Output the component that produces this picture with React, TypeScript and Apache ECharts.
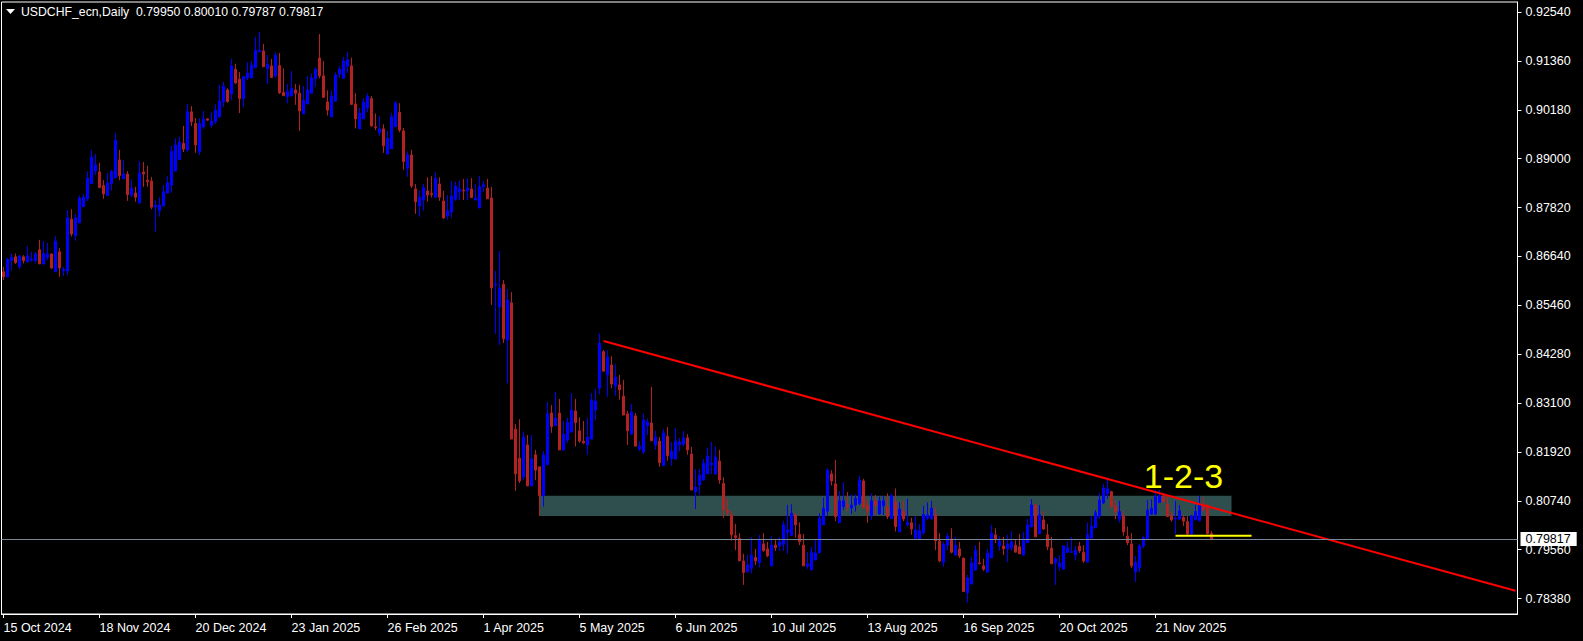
import React, { useEffect, useRef } from "react";
import * as echarts from "echarts";

// ---------- data ----------
const SYMBOL_TITLE = "USDCHF_ecn,Daily";
const HEADER_OHLC = ["0.79950", "0.80010", "0.79787", "0.79817"];
const START_DATE = "2024-10-15";
const TOTAL_SLOTS = 379; // bars + empty right shift
const LABEL_EVERY = 24;

// [open, close, low, high]
const candles: number[][] = [
  [0.8627, 0.8615, 0.8607, 0.8639], [0.8615, 0.8657, 0.8613, 0.8661], [0.8654, 0.8662, 0.863, 0.8671],
  [0.8663, 0.8649, 0.8646, 0.8671], [0.8639, 0.8665, 0.8634, 0.8667], [0.8663, 0.8654, 0.8647, 0.8667],
  [0.8651, 0.8665, 0.8649, 0.8689], [0.8655, 0.8658, 0.8651, 0.8675], [0.8654, 0.867, 0.8647, 0.8675],
  [0.868, 0.8646, 0.8646, 0.8704], [0.8646, 0.8671, 0.8643, 0.8701], [0.8662, 0.867, 0.8655, 0.8697],
  [0.867, 0.8636, 0.8634, 0.8671], [0.8627, 0.8701, 0.8627, 0.8713], [0.8675, 0.8636, 0.8615, 0.8684],
  [0.8629, 0.8633, 0.8617, 0.8639], [0.8629, 0.8757, 0.8619, 0.8776], [0.8754, 0.8718, 0.8712, 0.8778],
  [0.8714, 0.8757, 0.8702, 0.8766], [0.8745, 0.8805, 0.8744, 0.8811], [0.8784, 0.8807, 0.8783, 0.8815],
  [0.8803, 0.8853, 0.8798, 0.8869], [0.884, 0.8904, 0.8838, 0.8921], [0.887, 0.8885, 0.8861, 0.8911],
  [0.8868, 0.883, 0.883, 0.889], [0.8835, 0.8815, 0.8803, 0.8848], [0.8811, 0.8841, 0.8811, 0.8865],
  [0.884, 0.8869, 0.8823, 0.8873], [0.8854, 0.8945, 0.8853, 0.8961], [0.8897, 0.8859, 0.8848, 0.8921],
  [0.8852, 0.8863, 0.885, 0.8897], [0.8863, 0.8813, 0.8798, 0.887], [0.8812, 0.8829, 0.8807, 0.885],
  [0.8817, 0.8807, 0.8796, 0.8832], [0.8793, 0.8865, 0.8792, 0.8894], [0.8868, 0.8863, 0.8832, 0.8892],
  [0.8848, 0.8844, 0.8832, 0.8883], [0.8846, 0.8783, 0.8778, 0.8856], [0.8783, 0.8788, 0.8724, 0.88],
  [0.8774, 0.8788, 0.876, 0.8807], [0.8786, 0.882, 0.8784, 0.8836], [0.8817, 0.8842, 0.8816, 0.8858],
  [0.8836, 0.8918, 0.8818, 0.8931], [0.887, 0.8933, 0.887, 0.8949], [0.8898, 0.894, 0.8897, 0.8953],
  [0.8937, 0.8923, 0.8916, 0.8979], [0.8921, 0.9013, 0.8916, 0.9032], [0.9013, 0.8989, 0.8979, 0.9027],
  [0.8985, 0.8933, 0.8914, 0.8998], [0.8917, 0.8985, 0.8909, 0.8998], [0.8977, 0.8996, 0.8972, 0.9015],
  [0.8996, 0.8993, 0.8992, 0.8998], [0.8981, 0.8991, 0.8975, 0.9012], [0.8989, 0.9017, 0.8984, 0.9031],
  [0.9001, 0.9039, 0.8999, 0.9078], [0.9037, 0.9075, 0.9025, 0.9085], [0.9066, 0.9038, 0.9035, 0.907],
  [0.9056, 0.9124, 0.9041, 0.9141], [0.9116, 0.9083, 0.908, 0.9129], [0.9092, 0.9045, 0.901, 0.9109],
  [0.9045, 0.9098, 0.9025, 0.91], [0.9095, 0.9107, 0.909, 0.9133], [0.9095, 0.9126, 0.9094, 0.9136],
  [0.912, 0.9162, 0.9118, 0.9194], [0.9158, 0.9161, 0.9157, 0.9206], [0.916, 0.9122, 0.9121, 0.9177],
  [0.9117, 0.9128, 0.908, 0.915], [0.9124, 0.9096, 0.9095, 0.9141], [0.91, 0.915, 0.9094, 0.9157],
  [0.9125, 0.9059, 0.9056, 0.9155], [0.906, 0.9052, 0.9052, 0.9118], [0.905, 0.9063, 0.9034, 0.908],
  [0.9052, 0.907, 0.905, 0.9112], [0.9066, 0.9058, 0.903, 0.908], [0.9058, 0.9015, 0.8967, 0.9078],
  [0.9008, 0.9041, 0.9008, 0.9076], [0.9032, 0.9066, 0.9032, 0.91], [0.9058, 0.9095, 0.9058, 0.9106],
  [0.9093, 0.9116, 0.9074, 0.912], [0.9143, 0.91, 0.9094, 0.9201], [0.91, 0.9048, 0.9047, 0.9136],
  [0.9037, 0.9017, 0.9004, 0.9065], [0.9001, 0.9051, 0.9001, 0.9065], [0.9039, 0.9102, 0.9037, 0.9108],
  [0.9104, 0.9116, 0.9095, 0.9124], [0.9094, 0.9136, 0.9094, 0.9145], [0.9123, 0.9139, 0.9107, 0.9158],
  [0.9124, 0.9031, 0.903, 0.9144], [0.9032, 0.8996, 0.8973, 0.9058], [0.8972, 0.901, 0.8972, 0.9023],
  [0.8996, 0.9037, 0.8996, 0.9046], [0.9022, 0.905, 0.9012, 0.9058], [0.9045, 0.8979, 0.8977, 0.9051],
  [0.8977, 0.8975, 0.8969, 0.9009], [0.8963, 0.8972, 0.8955, 0.9003], [0.8972, 0.8931, 0.8914, 0.8983],
  [0.8911, 0.8949, 0.8911, 0.8968], [0.8924, 0.9001, 0.8924, 0.901], [0.8977, 0.9034, 0.8977, 0.9039],
  [0.9012, 0.8969, 0.8964, 0.9034], [0.8967, 0.8893, 0.8873, 0.8974], [0.8877, 0.8909, 0.8856, 0.8918],
  [0.8909, 0.8834, 0.8829, 0.8921], [0.8827, 0.8796, 0.8767, 0.8839], [0.8786, 0.8807, 0.876, 0.8823],
  [0.88, 0.883, 0.8774, 0.8839], [0.8822, 0.8812, 0.8796, 0.8855], [0.8816, 0.8813, 0.8806, 0.8858],
  [0.8807, 0.8853, 0.8806, 0.8867], [0.8839, 0.8807, 0.8798, 0.8855], [0.8798, 0.8757, 0.8754, 0.8822],
  [0.8762, 0.8774, 0.8753, 0.8812], [0.8771, 0.881, 0.8757, 0.8846], [0.8802, 0.8834, 0.8798, 0.8844],
  [0.882, 0.8827, 0.88, 0.8848], [0.8824, 0.8822, 0.88, 0.8851], [0.8822, 0.8829, 0.88, 0.8853],
  [0.8827, 0.8806, 0.8806, 0.8853], [0.88, 0.8805, 0.88, 0.8839], [0.8781, 0.8832, 0.8781, 0.8858],
  [0.8832, 0.8837, 0.882, 0.8846], [0.8829, 0.8803, 0.8803, 0.8851], [0.8805, 0.8588, 0.8547, 0.8832],
  [0.8595, 0.8597, 0.8477, 0.8629], [0.8542, 0.8588, 0.845, 0.8677], [0.8597, 0.8465, 0.8455, 0.8607],
  [0.8462, 0.8559, 0.8358, 0.8585], [0.8552, 0.8223, 0.8223, 0.8578], [0.8247, 0.8139, 0.8098, 0.8259],
  [0.8177, 0.8122, 0.8117, 0.8271], [0.8132, 0.8228, 0.8124, 0.8241], [0.8209, 0.811, 0.811, 0.8233],
  [0.811, 0.8175, 0.811, 0.8233], [0.8185, 0.8148, 0.8124, 0.8197], [0.8156, 0.8086, 0.8038, 0.8156],
  [0.8086, 0.8185, 0.806, 0.8194], [0.8161, 0.8284, 0.8161, 0.8313], [0.8286, 0.8253, 0.8238, 0.8305],
  [0.8255, 0.8274, 0.8255, 0.8337], [0.8286, 0.8197, 0.8197, 0.832], [0.8197, 0.8235, 0.8194, 0.8267],
  [0.8221, 0.8264, 0.8214, 0.8274], [0.824, 0.8293, 0.824, 0.8334], [0.8291, 0.8263, 0.8205, 0.832],
  [0.8243, 0.8218, 0.8214, 0.8276], [0.8218, 0.8214, 0.8211, 0.8267], [0.8209, 0.8228, 0.8185, 0.8274],
  [0.8223, 0.8317, 0.8223, 0.8334], [0.8293, 0.8315, 0.8269, 0.8344], [0.8346, 0.8454, 0.8331, 0.8478],
  [0.8434, 0.8387, 0.8387, 0.8438], [0.8378, 0.8421, 0.8325, 0.8438], [0.8402, 0.8356, 0.8346, 0.8423],
  [0.8351, 0.8373, 0.8328, 0.8404], [0.8354, 0.8342, 0.8318, 0.8378], [0.8327, 0.8281, 0.8281, 0.8366],
  [0.8284, 0.8243, 0.8209, 0.8291], [0.8235, 0.8288, 0.8235, 0.8308], [0.8279, 0.8206, 0.8206, 0.8286],
  [0.8199, 0.8206, 0.8194, 0.8218], [0.8192, 0.8269, 0.8187, 0.8284], [0.8255, 0.8264, 0.8233, 0.8272],
  [0.8262, 0.8219, 0.8219, 0.8349], [0.8209, 0.8228, 0.8197, 0.8243], [0.8218, 0.8166, 0.8156, 0.8228],
  [0.8159, 0.8238, 0.8159, 0.8247], [0.823, 0.8183, 0.8171, 0.8252], [0.8176, 0.8194, 0.8159, 0.8216],
  [0.8175, 0.8218, 0.8173, 0.825], [0.8209, 0.8216, 0.8193, 0.8226], [0.8211, 0.8226, 0.8205, 0.8243],
  [0.8226, 0.8197, 0.8185, 0.8235], [0.8187, 0.81, 0.81, 0.8204], [0.8096, 0.8107, 0.8054, 0.8151],
  [0.8112, 0.8136, 0.8088, 0.8151], [0.8124, 0.8165, 0.8124, 0.8175], [0.8139, 0.8182, 0.8139, 0.8202],
  [0.8161, 0.8165, 0.8139, 0.8216], [0.8139, 0.818, 0.8136, 0.8206], [0.817, 0.8124, 0.8115, 0.8197],
  [0.8116, 0.8052, 0.8033, 0.8131], [0.8052, 0.8045, 0.8037, 0.808], [0.8041, 0.7992, 0.7978, 0.8049],
  [0.799, 0.7985, 0.7955, 0.8018], [0.7984, 0.7929, 0.7929, 0.7996], [0.7929, 0.7901, 0.7871, 0.7946],
  [0.7903, 0.7919, 0.7899, 0.7943], [0.7911, 0.7943, 0.7899, 0.7986], [0.7937, 0.7929, 0.7919, 0.7958],
  [0.7925, 0.7979, 0.7913, 0.7992], [0.797, 0.7954, 0.7951, 0.7996], [0.7958, 0.7941, 0.7938, 0.7975],
  [0.7917, 0.7967, 0.7917, 0.7989], [0.7967, 0.7961, 0.7953, 0.7979], [0.7965, 0.7975, 0.7953, 0.7987],
  [0.7969, 0.8016, 0.7953, 0.8025], [0.7998, 0.8004, 0.7946, 0.8064], [0.799, 0.8044, 0.799, 0.8066],
  [0.804, 0.8016, 0.7985, 0.8045], [0.7993, 0.7975, 0.7967, 0.8022], [0.7967, 0.7917, 0.7917, 0.7994],
  [0.7916, 0.7922, 0.791, 0.795], [0.7907, 0.795, 0.7907, 0.7963], [0.7931, 0.7948, 0.7931, 0.7979],
  [0.7949, 0.8032, 0.7946, 0.8044], [0.8016, 0.8056, 0.8016, 0.8082], [0.8049, 0.8148, 0.8038, 0.8153],
  [0.8139, 0.8122, 0.8111, 0.8148], [0.8115, 0.8036, 0.8025, 0.8173], [0.8021, 0.8074, 0.8021, 0.8098],
  [0.806, 0.8074, 0.8052, 0.8119], [0.8064, 0.806, 0.8049, 0.8095], [0.8057, 0.8064, 0.8042, 0.809],
  [0.8064, 0.808, 0.8048, 0.809], [0.8068, 0.8124, 0.8064, 0.8134], [0.8122, 0.8057, 0.8056, 0.8127],
  [0.8064, 0.8049, 0.8021, 0.8076], [0.8038, 0.8074, 0.8028, 0.8092], [0.8074, 0.8062, 0.804, 0.8088],
  [0.8043, 0.8074, 0.804, 0.8084], [0.8062, 0.8074, 0.804, 0.8086], [0.806, 0.8036, 0.803, 0.8092],
  [0.8031, 0.8086, 0.8031, 0.8092], [0.8071, 0.8012, 0.8, 0.8104], [0.7999, 0.8054, 0.7999, 0.8071],
  [0.8049, 0.803, 0.8025, 0.8074], [0.8016, 0.8021, 0.8012, 0.8079], [0.8021, 0.8006, 0.7992, 0.8033],
  [0.7984, 0.8004, 0.7983, 0.8037], [0.7982, 0.8002, 0.7982, 0.8018], [0.7997, 0.8041, 0.7992, 0.8062],
  [0.8032, 0.804, 0.8028, 0.807], [0.803, 0.8056, 0.803, 0.8074], [0.8041, 0.7977, 0.7955, 0.8059],
  [0.7977, 0.7929, 0.7926, 0.7996], [0.7926, 0.7969, 0.7915, 0.7975], [0.7967, 0.7989, 0.7955, 0.7996],
  [0.7982, 0.795, 0.7947, 0.8008], [0.7943, 0.7967, 0.7943, 0.7987], [0.7958, 0.7941, 0.7936, 0.7975],
  [0.7936, 0.7855, 0.7855, 0.7936], [0.7852, 0.7888, 0.7828, 0.7895], [0.7873, 0.7924, 0.7873, 0.7938],
  [0.7907, 0.7955, 0.7905, 0.7967], [0.7924, 0.7922, 0.7921, 0.7975], [0.7917, 0.7909, 0.7905, 0.7934],
  [0.7902, 0.7948, 0.79, 0.7958], [0.7936, 0.7996, 0.7936, 0.8016], [0.7992, 0.7982, 0.7972, 0.8008],
  [0.7965, 0.7977, 0.7953, 0.7989], [0.7965, 0.7958, 0.7943, 0.7987], [0.7958, 0.797, 0.7926, 0.7992],
  [0.796, 0.7975, 0.7953, 0.8001], [0.7967, 0.795, 0.795, 0.7979], [0.7963, 0.7946, 0.7946, 0.7994],
  [0.7943, 0.7982, 0.7943, 0.7999], [0.7973, 0.8016, 0.7973, 0.803], [0.8011, 0.8064, 0.8011, 0.8078],
  [0.8064, 0.7987, 0.7987, 0.8066], [0.7994, 0.804, 0.7994, 0.8064], [0.8028, 0.8006, 0.8004, 0.8049],
  [0.7992, 0.7963, 0.7955, 0.8018], [0.796, 0.7922, 0.7922, 0.7987], [0.7924, 0.7934, 0.7871, 0.7938],
  [0.7914, 0.7924, 0.7905, 0.7943], [0.7909, 0.7965, 0.7909, 0.7967], [0.795, 0.796, 0.7948, 0.7975],
  [0.795, 0.7951, 0.7948, 0.7987], [0.7943, 0.7955, 0.7931, 0.7965], [0.7965, 0.7953, 0.7948, 0.7975],
  [0.795, 0.7929, 0.7924, 0.7967], [0.7926, 0.7992, 0.7926, 0.8021], [0.7984, 0.8013, 0.7984, 0.8037],
  [0.8009, 0.8045, 0.8009, 0.8052], [0.8037, 0.8076, 0.803, 0.8093], [0.8069, 0.8105, 0.8066, 0.8115],
  [0.8091, 0.8103, 0.8079, 0.8124], [0.8096, 0.806, 0.8056, 0.8098], [0.8062, 0.8048, 0.803, 0.8074],
  [0.803, 0.8048, 0.8021, 0.8074], [0.8038, 0.7999, 0.799, 0.805], [0.7989, 0.7973, 0.7967, 0.8012],
  [0.797, 0.7917, 0.7912, 0.7996], [0.7902, 0.7926, 0.7878, 0.7941], [0.7912, 0.7965, 0.7902, 0.797],
  [0.7965, 0.7985, 0.796, 0.799], [0.7983, 0.8052, 0.7979, 0.8076], [0.8042, 0.8056, 0.804, 0.8078],
  [0.8042, 0.8084, 0.804, 0.81], [0.807, 0.8086, 0.807, 0.81], [0.8086, 0.8072, 0.8068, 0.8092],
  [0.8066, 0.8036, 0.8036, 0.8086], [0.8038, 0.8028, 0.8024, 0.8048], [0.803, 0.8032, 0.7994, 0.8074],
  [0.803, 0.805, 0.8028, 0.8064], [0.8034, 0.8025, 0.8013, 0.804], [0.8024, 0.7994, 0.7992, 0.8037],
  [0.7994, 0.8038, 0.7992, 0.804], [0.8028, 0.8048, 0.8028, 0.8064], [0.8026, 0.8064, 0.8024, 0.8086],
  [0.8062, 0.8052, 0.8048, 0.8083], [0.8064, 0.7995, 0.7993, 0.8066], [0.7995, 0.79817, 0.79787, 0.8001],
];

const yTicks = [0.7838, 0.7956, 0.8074, 0.8192, 0.831, 0.8428, 0.8546, 0.8664, 0.8782, 0.89, 0.9018, 0.9136, 0.9254];
const lastPrice = 0.79817;
// trend line: [bar index, price]
const trendLine: number[][] = [[150, 0.846], [378, 0.7857]];
// support/resistance zone: [fromIndex, toIndex, lowPrice, highPrice]
const zone = [134, 307, 0.80375, 0.80864];
// yellow level: [fromIndex, toIndex, price]
const yellowLevel = [293, 312, 0.799];
// annotation text: [index, price, text]
const annotation: [number, number, string] = [295, 0.8134, "1-2-3"];

const Y_MIN = 0.78008;
const Y_MAX = 0.92782;

const MONTHS = ["Jan", "Feb", "Mar", "Apr", "May", "Jun", "Jul", "Aug", "Sep", "Oct", "Nov", "Dec"];

function weekdayLabels(start: string, count: number): string[] {
  const out: string[] = [];
  const d = new Date(start + "T00:00:00Z");
  while (out.length < count) {
    const wd = d.getUTCDay();
    if (wd !== 0 && wd !== 6) {
      out.push(`${d.getUTCDate()} ${MONTHS[d.getUTCMonth()]} ${d.getUTCFullYear()}`);
    }
    d.setUTCDate(d.getUTCDate() + 1);
  }
  return out;
}

const FONT = "'Liberation Sans', Arial, sans-serif";

export default function App() {
  const ref = useRef<HTMLDivElement>(null);

  useEffect(() => {
    document.body.style.margin = "0";
    document.body.style.background = "#000";
    if (!ref.current) return;
    const chart = echarts.init(ref.current, undefined, { renderer: "svg" });
    const dates = weekdayLabels(START_DATE, TOTAL_SLOTS);
    const nBars = candles.length;
    const showLabel = (i: number) => i % LABEL_EVERY === 0 && i < nBars;

    chart.setOption({
      animation: false,
      backgroundColor: "#000",
      textStyle: { fontFamily: FONT },
      grid: {
        left: 1.5,
        right: 65.5,
        top: 2,
        bottom: 27,
        show: true,
        borderColor: "#ffffff",
        borderWidth: 1,
        backgroundColor: "transparent",
      },
      xAxis: {
        type: "category",
        data: dates,
        boundaryGap: true,
        axisLine: { show: true, lineStyle: { color: "#ffffff", width: 1 } },
        axisTick: {
          show: true,
          interval: showLabel,
          alignWithLabel: true,
          length: 4,
          lineStyle: { color: "#ffffff" },
        },
        axisLabel: {
          interval: showLabel,
          color: "#ffffff",
          fontFamily: FONT,
          fontSize: 12.5,
          align: "left",
          margin: 7,
        },
        splitLine: { show: false },
      },
      yAxis: {
        type: "value",
        position: "right",
        min: Y_MIN,
        max: Y_MAX,
        axisLine: { show: true, lineStyle: { color: "#ffffff" } },
        axisTick: { show: true, length: 4, lineStyle: { color: "#ffffff" }, customValues: yTicks },
        axisLabel: {
          customValues: yTicks,
          color: "#ffffff",
          fontFamily: FONT,
          fontSize: 12.5,
          margin: 8,
          formatter: (v: number) => v.toFixed(5),
        },
        splitLine: { show: false },
      },
      graphic: [
        {
          type: "polygon",
          shape: { points: [[6, 9], [15, 9], [10.5, 14]] },
          style: { fill: "#ffffff" },
          z: 100,
        },
        {
          type: "text",
          x: 21,
          y: 12,
          style: {
            text: `${SYMBOL_TITLE}  ${HEADER_OHLC.join(" ")}`,
            fill: "#ffffff",
            font: `12.25px ${FONT}`,
            verticalAlign: "middle",
            align: "left",
          },
          z: 100,
        },
      ],
      series: [
        {
          type: "line",
          data: [],
          z: 1,
          silent: true,
          markArea: {
            silent: true,
            itemStyle: { color: "#2f4f4f", opacity: 1 },
            data: [[{ xAxis: zone[0], yAxis: zone[3] }, { xAxis: zone[1], yAxis: zone[2] }]],
          },
        },
        {
          type: "candlestick",
          data: candles,
          z: 2,
          barWidth: 2,
          silent: true,
          itemStyle: {
            color: "#0000ff",
            color0: "#b22222",
            borderColor: "#0000ff",
            borderColor0: "#b22222",
            borderWidth: 1,
          },
        },
        {
          type: "line",
          data: [],
          z: 3,
          silent: true,
          markLine: {
            silent: true,
            precision: 5,
            symbol: ["none", "none"],
            lineStyle: { color: "#778899", type: "solid", width: 1 },
            label: {
              show: true,
              position: "end",
              distance: 3,
              formatter: () => lastPrice.toFixed(5),
              backgroundColor: "#ffffff",
              color: "#000000",
              fontFamily: FONT,
              fontSize: 12.5,
              padding: [1, 6, 0, 5],
            },
            data: [{ yAxis: lastPrice }],
          },
        },
        {
          type: "line",
          data: trendLine,
          z: 4,
          symbol: "none",
          silent: true,
          lineStyle: { color: "#ff0000", width: 2 },
        },
        {
          type: "line",
          data: [[yellowLevel[0], yellowLevel[2]], [yellowLevel[1], yellowLevel[2]]],
          z: 4,
          symbol: "none",
          silent: true,
          lineStyle: { color: "#ffff00", width: 2 },
        },
        {
          type: "scatter",
          data: [[annotation[0], annotation[1]]],
          z: 5,
          symbolSize: 1,
          silent: true,
          itemStyle: { color: "rgba(0,0,0,0)" },
          label: {
            show: true,
            position: "inside",
            formatter: annotation[2],
            color: "#ffff00",
            opacity: 1,
            textBorderWidth: 0,
            fontFamily: FONT,
            fontSize: 34,
          },
        },
      ],
    });

    return () => chart.dispose();
  }, []);

  return (
    <div
      ref={ref}
      style={{ position: "fixed", left: 0, top: 0, width: 1583, height: 641, background: "#000" }}
    />
  );
}
